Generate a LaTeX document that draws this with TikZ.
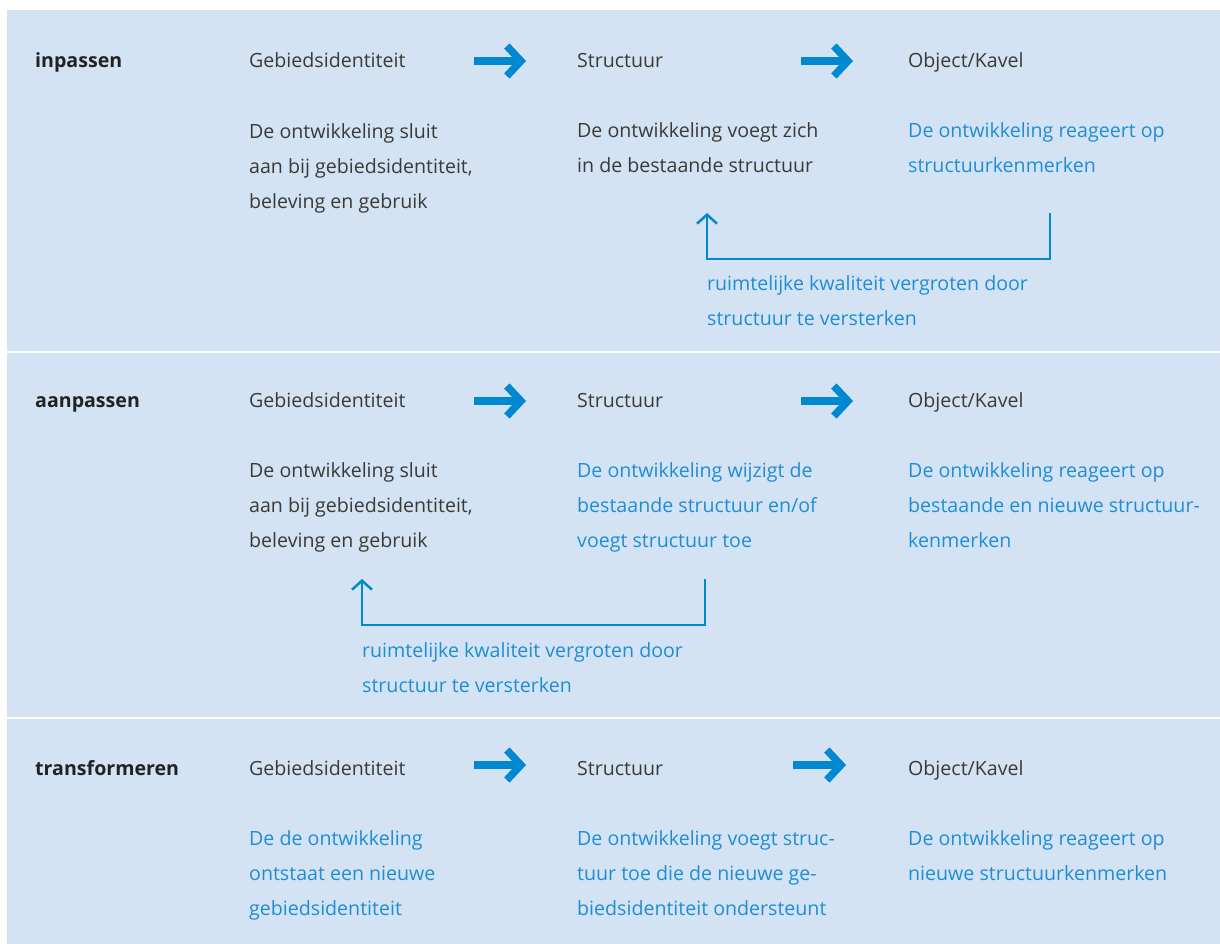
\documentclass[tikz,border=0pt]{standalone}
\usepackage{fontspec}
\setmainfont{Open Sans}
\usetikzlibrary{arrows.meta}
\definecolor{bandblauw}{HTML}{D3E3F3}
\definecolor{pijlblauw}{HTML}{0088D1}
\definecolor{tekstblauw}{HTML}{1F8DD6}
\definecolor{tekstgrijs}{HTML}{3A3A3A}
\definecolor{kopgrijs}{HTML}{222222}

\begin{document}
\begin{tikzpicture}[x=1pt, y=-1pt,
  every node/.style = {inner sep=0pt, anchor=base west, align=left,
    font=\fontsize{19.6}{35}\selectfont},
  kop/.style = {font=\fontsize{19.6}{35}\selectfont\bfseries, text=kopgrijs},
  grijs/.style = {text=tekstgrijs},
  blauw/.style = {text=tekstblauw},
  pijl/.style = {draw=pijlblauw, line width=7.5pt,
    -{Straight Barb[length=14pt, width=30pt]}},
  terug/.style = {draw=pijlblauw, line width=2.5pt,
    -{Straight Barb[length=9pt, width=20pt]}}]
  \useasboundingbox (0,0) rectangle (1220,944);
  % achtergrond en scheidingslijnen
  \fill[bandblauw] (7,10) rectangle (1220,944);
  \draw[white, line width=2.5pt] (7,352) -- (1220,352);
  \draw[white, line width=2.5pt] (7,718) -- (1220,718);

  % inpassen (multi-line nodes sit on their last baseline)
  \node[kop] (a-kop) at (35,67.5) {inpassen};
  \node[grijs] (a-gebied) at (249,67.5) {Gebiedsidentiteit};
  \node[grijs] (a-struct) at (577,67.5) {Structuur};
  \node[grijs] (a-object) at (908,67.5) {Object/Kavel};
  \node[grijs] (a-gebied-t) at (249,208) {De ontwikkeling sluit\\aan bij gebiedsidentiteit,\\beleving en gebruik};
  \node[grijs] (a-struct-t) at (577,173) {De ontwikkeling voegt zich\\in de bestaande structuur};
  \node[blauw] (a-object-t) at (908,173) {De ontwikkeling reageert op\\structuurkenmerken};
  \draw[pijl] ([shift={(225,-6.5)}]a-gebied.base west) -- ([shift={(-51,-6.5)}]a-struct.base west);
  \draw[pijl] ([shift={(224,-6.5)}]a-struct.base west) -- ([shift={(-55,-6.5)}]a-object.base west);
  \coordinate (a-terug-van) at (1050,213);
  \coordinate (a-terug-naar) at (707,213);
  \draw[terug] (a-terug-van) -- ++(0,46) -| (a-terug-naar);
  \node[blauw] (a-terug-t) at (707,325) {ruimtelijke kwaliteit vergroten door\\structuur te versterken};

  % aanpassen
  \node[kop] (b-kop) at (35,407.5) {aanpassen};
  \node[grijs] (b-gebied) at (249,407.5) {Gebiedsidentiteit};
  \node[grijs] (b-struct) at (577,407.5) {Structuur};
  \node[grijs] (b-object) at (908,407.5) {Object/Kavel};
  \node[grijs] (b-gebied-t) at (249,547) {De ontwikkeling sluit\\aan bij gebiedsidentiteit,\\beleving en gebruik};
  \node[blauw] (b-struct-t) at (577,547) {De ontwikkeling wijzigt de\\bestaande structuur en/of\\voegt structuur toe};
  \node[blauw] (b-object-t) at (908,547) {De ontwikkeling reageert op\\bestaande en nieuwe structuur-\\kenmerken};
  \draw[pijl] ([shift={(225,-6.5)}]b-gebied.base west) -- ([shift={(-51,-6.5)}]b-struct.base west);
  \draw[pijl] ([shift={(224,-6.5)}]b-struct.base west) -- ([shift={(-55,-6.5)}]b-object.base west);
  \coordinate (b-terug-van) at (705,579);
  \coordinate (b-terug-naar) at (362,579);
  \draw[terug] (b-terug-van) -- ++(0,46) -| (b-terug-naar);
  \node[blauw] (b-terug-t) at (362,692) {ruimtelijke kwaliteit vergroten door\\structuur te versterken};

  % transformeren
  \node[kop] (c-kop) at (35,775.5) {transformeren};
  \node[grijs] (c-gebied) at (249,775.5) {Gebiedsidentiteit};
  \node[grijs] (c-struct) at (577,775.5) {Structuur};
  \node[grijs] (c-object) at (908,775.5) {Object/Kavel};
  \node[blauw] (c-gebied-t) at (249,915) {De de ontwikkeling\\ontstaat een nieuwe\\gebiedsidentiteit};
  \node[blauw] (c-struct-t) at (577,915) {De ontwikkeling voegt struc-\\tuur toe die de nieuwe ge-\\biedsidentiteit ondersteunt};
  \node[blauw] (c-object-t) at (908,880) {De ontwikkeling reageert op\\nieuwe structuurkenmerken};
  \draw[pijl] ([shift={(225,-10.5)}]c-gebied.base west) -- ([shift={(-51,-10.5)}]c-struct.base west);
  \draw[pijl] ([shift={(216,-10.5)}]c-struct.base west) -- ([shift={(-62,-10.5)}]c-object.base west);
\end{tikzpicture}
\end{document}
